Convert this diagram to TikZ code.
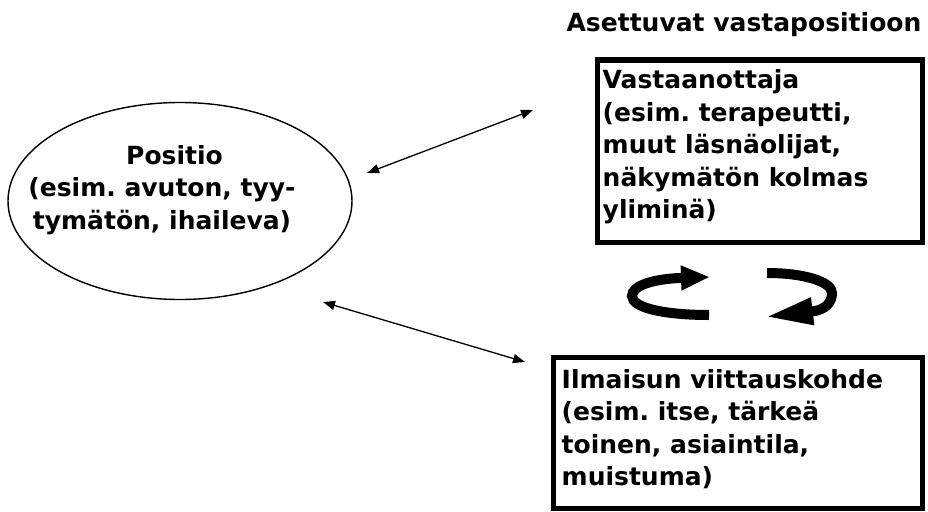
\documentclass[tikz,border=0pt]{standalone}
\usepackage{fontspec}
\setmainfont{DejaVu Sans}
\frenchspacing
\usetikzlibrary{shapes.geometric,arrows.meta,positioning}
\tikzset{txt/.style={font=\bfseries\fontsize{25}{32.5}\selectfont, align=left, inner sep=0pt}}
\tikzset{frame/.style={rectangle, draw, line width=5pt, inner sep=0pt}}
\tikzset{oval/.style={ellipse, draw, line width=1.4pt, inner sep=0pt, minimum width=344pt, minimum height=197pt}}
\tikzset{line/.style={draw, line width=1.3pt, {Triangle[length=12pt,width=9pt]}-{Triangle[length=12pt,width=9pt]}}}
\tikzset{turn/.style={draw, line width=10pt}}

\begin{document}
\begin{tikzpicture}[x=1pt,y=-1pt]
        \useasboundingbox (0,0) rectangle (928,511);

        \node[oval]                  (pos) at (180,201) {};
        \node[txt, align=center]     (postxt) at (162,190) {\hspace*{25pt}Positio\\(esim. avuton, tyy-\\tymätön, ihaileva)};

        \node[txt]                   (title) at (744,25) {Asettuvat vastapositioon};
        \node[frame, minimum width=325pt, minimum height=182pt, anchor=north west] (recv) at (594.5,57.5) {};
        \node[txt, below right=12pt and 8pt of recv.north west] (recvtxt) {Vastaanottaja\\(esim. terapeutti,\\muut läsnäolijat,\\näkymätön kolmas\\yliminä)};

        \node[frame, minimum width=369pt, minimum height=151pt, anchor=north west] (ref) at (550.5,354.5) {};
        \node[txt, below right=14.5pt and 11pt of ref.north west] (reftxt) {Ilmaisun viittauskohde\\(esim. itse, tärkeä\\toinen, asiaintila,\\muistuma)};

        \coordinate (recvend) at (533,110);
        \coordinate (posend) at (367,173);
        \coordinate (posend2) at (323,302);
        \coordinate (refend) at (525,362);

        \path[line] (posend) --  (recvend);
        \path[line] (posend2) -- (refend);

        % turn-taking arrows
        \path[turn, -{Triangle[length=29pt,width=23pt]}] (709,315) .. controls (665,315) and (632,308) .. (632,296)
              .. controls (632,285) and (655,279) .. (680,278) -- (710,277);
        \path[turn, -{Triangle[length=48pt,width=25pt]}] (767,273) .. controls (805,273) and (832,282) .. (832,293)
              .. controls (832,303) and (825,309) .. (815,311) -- (765,317);
\end{tikzpicture}
\end{document}
